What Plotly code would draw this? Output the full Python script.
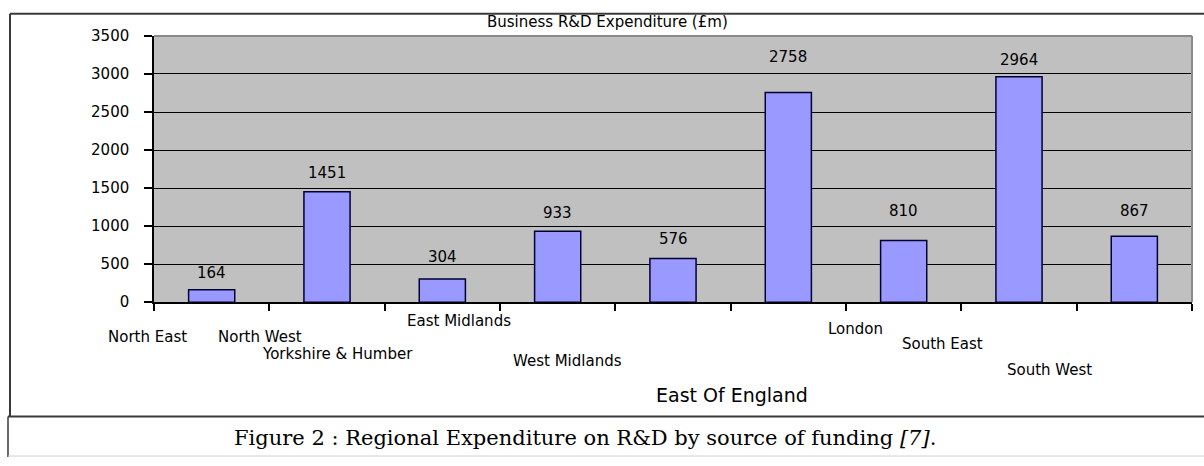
import plotly.graph_objects as go

# ---- data ----
regions = ["North East", "North West", "Yorkshire & Humber", "East Midlands",
           "West Midlands", "East Of England", "London", "South East", "South West"]
spend = [164, 1451, 304, 933, 576, 2758, 810, 2964, 867]
y_ticks = [0, 500, 1000, 1500, 2000, 2500, 3000, 3500]
title_text = "Business R&D Expenditure (£m)"
caption_text = "Figure 2 : Regional Expenditure on R&D by source of funding <i>[7]</i>."

# ---- layout / style settings ----
W, H = 1204, 466
PL, PR, PT, PB = 154, 1192, 28, 305          # plot area in pixels
# staggered category label placement (x shift from category centre, y pixel)
lab_dx = [-64, -67, -105, -99, -106, -56, -48, -77, -85]
lab_py = [341, 341, 359, 325, 366, 402, 333, 348, 376]
lab_size = [15, 15, 15, 15, 15, 19, 15, 15, 15]
# value label offset above bar top (px)
val_dy = [17, 19, 22, 18, 19, 35, 30, 17, 25]

def fx(px):
    return px / W

def fy(py):
    return 1 - py / H

SANS = "DejaVu Sans"
SERIF = "DejaVu Serif"

fig = go.Figure()
fig.add_trace(go.Bar(
    x=regions, y=spend,
    marker=dict(color="#9999FF", line=dict(color="#000033", width=1.5)),
    hoverinfo="x+y",
))

annotations = []
for r, v, dy in zip(regions, spend, val_dy):
    annotations.append(dict(x=r, y=v, xref="x", yref="y", text=str(v),
                            showarrow=False, yshift=dy, yanchor="middle",
                            font=dict(family=SANS, size=15, color="black")))
for r, dx, py, fs in zip(regions, lab_dx, lab_py, lab_size):
    annotations.append(dict(x=r, y=fy(py), xref="x", yref="paper", text=r,
                            showarrow=False, xshift=dx, yanchor="middle",
                            xanchor="center",
                            font=dict(family=SANS, size=fs, color="black")))
annotations.append(dict(x=fx(607), y=fy(14), xref="paper", yref="paper",
                        text=title_text, showarrow=False, xanchor="center",
                        yanchor="middle",
                        font=dict(family=SANS, size=15, color="black")))
annotations.append(dict(x=fx(585), y=fy(446), xref="paper", yref="paper",
                        text=caption_text, showarrow=False, xanchor="center",
                        yanchor="middle",
                        font=dict(family=SERIF, size=21, color="black")))

frame = "#3a3a3a"
shapes = [
    # plot area top/right border (gray)
    dict(type="line", xref="paper", yref="paper", x0=fx(PL), x1=fx(PR),
         y0=fy(PT), y1=fy(PT), line=dict(color="#8a8a8a", width=2), layer="above"),
    dict(type="line", xref="paper", yref="paper", x0=fx(PR), x1=fx(PR),
         y0=fy(PT), y1=fy(PB), line=dict(color="#8a8a8a", width=2), layer="above"),
    # outer frame
    dict(type="line", xref="paper", yref="paper", x0=fx(10), x1=1,
         y0=fy(5), y1=fy(5), line=dict(color=frame, width=2)),
    dict(type="line", xref="paper", yref="paper", x0=fx(10), x1=fx(10),
         y0=fy(5), y1=fy(424), line=dict(color=frame, width=2)),
    dict(type="line", xref="paper", yref="paper", x0=fx(8), x1=1,
         y0=fy(424), y1=fy(424), line=dict(color=frame, width=2)),
    dict(type="line", xref="paper", yref="paper", x0=fx(8), x1=fx(8),
         y0=fy(424), y1=0, line=dict(color=frame, width=1.5)),
    dict(type="line", xref="paper", yref="paper", x0=fx(8), x1=1,
         y0=fy(465), y1=fy(465), line=dict(color="#d0d0d0", width=1)),
]

fig.update_layout(
    width=W, height=H,
    margin=dict(l=0, r=0, t=0, b=0),
    paper_bgcolor="white",
    plot_bgcolor="#C0C0C0",
    showlegend=False,
    bargap=0.6,
    annotations=annotations,
    shapes=shapes,
    xaxis=dict(domain=[fx(PL), fx(PR)], type="category", range=[-0.5, 8.5],
               showticklabels=False, showgrid=False, zeroline=False,
               showline=True, linecolor="black", linewidth=1.5,
               ticks="outside", tickson="boundaries", ticklen=7,
               tickcolor="black", tickwidth=1.5),
    yaxis=dict(domain=[fy(PB), fy(PT)], range=[0, 3500],
               tickvals=y_ticks, ticktext=[str(t) for t in y_ticks],
               showgrid=True, gridcolor="black", gridwidth=1.2,
               zeroline=False, showline=True, linecolor="black", linewidth=1.5,
               ticks="outside", ticklen=8, tickcolor="black", tickwidth=1.5,
               ticklabelstandoff=12,
               tickfont=dict(family=SANS, size=15, color="black")),
)

fig.write_html("out.html",
               config={"displayModeBar": False},
               post_script="document.body.style.margin='0';"
                           "document.body.style.overflow='hidden';")
